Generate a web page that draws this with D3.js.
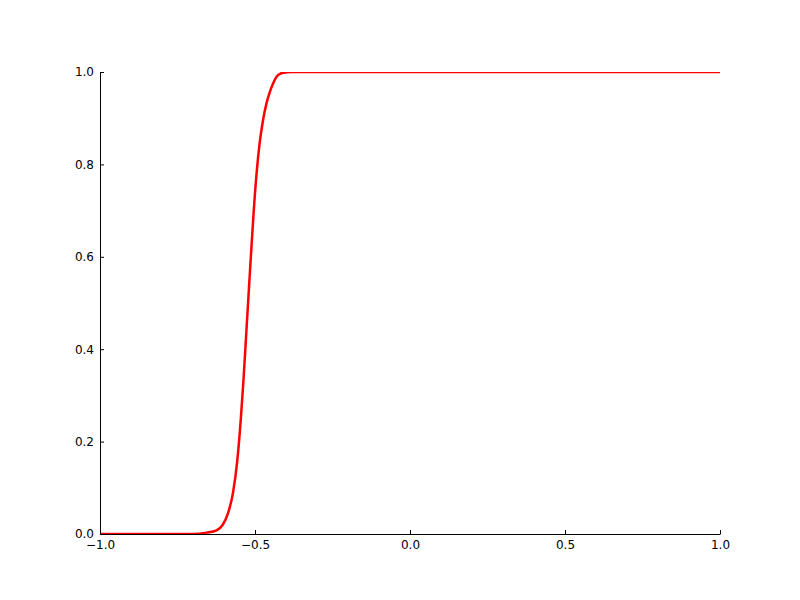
<!DOCTYPE html>
<html>
<head>
<meta charset="utf-8">
<script src="https://cdn.jsdelivr.net/npm/d3@7"></script>
<style>
  body { margin: 0; background: #fff; }
</style>
</head>
<body>
<div id="chart"></div>
<script>
// curve
var xs = [-1.0, -0.70, -0.656, -0.624, -0.604, -0.587, -0.571, -0.557, -0.546, -0.537, -0.527, -0.516, -0.505, -0.495, -0.485, -0.474, -0.463, -0.452, -0.441, -0.430, -0.412, -0.38, 1.0];
var ys = [0.0, 0.0, 0.003, 0.008, 0.020, 0.045, 0.089, 0.160, 0.247, 0.335, 0.448, 0.571, 0.690, 0.780, 0.846, 0.896, 0.932, 0.957, 0.976, 0.990, 0.998, 1.0, 1.0];
var xTicks = [-1.0, -0.5, 0.0, 0.5, 1.0];
var yTicks = [0.0, 0.2, 0.4, 0.6, 0.8, 1.0];

(function() {
  var width = 800, height = 600;
  var left = 100, right = 720, top = 72, bottom = 534;

  var svg = d3.select('#chart').append('svg')
    .attr('width', width)
    .attr('height', height);

  var x = d3.scaleLinear().domain([-1, 1]).range([left, right]);
  var y = d3.scaleLinear().domain([0, 1]).range([bottom, top]);

  svg.append('clipPath').attr('id', 'clip')
    .append('rect')
    .attr('x', left).attr('y', top)
    .attr('width', right - left).attr('height', bottom - top);

  var pts = xs.map(function(d, i) { return [d, ys[i]]; });
  var line = d3.line()
    .x(function(d) { return x(d[0]); })
    .y(function(d) { return y(d[1]); })
    .curve(d3.curveMonotoneX);

  svg.append('path')
    .datum(pts)
    .attr('clip-path', 'url(#clip)')
    .attr('d', line)
    .attr('fill', 'none')
    .attr('stroke', '#ff0000')
    .attr('stroke-width', 2.5)
    .attr('stroke-linejoin', 'round');

  var fmt = d3.format('.1f');

  var gx = svg.append('g')
    .attr('transform', 'translate(0,' + bottom + ')')
    .call(d3.axisBottom(x).tickValues(xTicks).tickFormat(fmt)
      .tickSizeInner(-4).tickSizeOuter(0).tickPadding(6));

  var gy = svg.append('g')
    .attr('transform', 'translate(' + left + ',0)')
    .call(d3.axisLeft(y).tickValues(yTicks).tickFormat(fmt)
      .tickSizeInner(-4).tickSizeOuter(0).tickPadding(6));

  [gx, gy].forEach(function(g) {
    g.attr('font-family', 'DejaVu Sans').attr('font-size', 12);
    g.selectAll('text').attr('fill', '#000');
    g.selectAll('line').attr('stroke', '#000');
    g.select('.domain').attr('stroke', '#000');
  });
})();
</script>
</body>
</html>
